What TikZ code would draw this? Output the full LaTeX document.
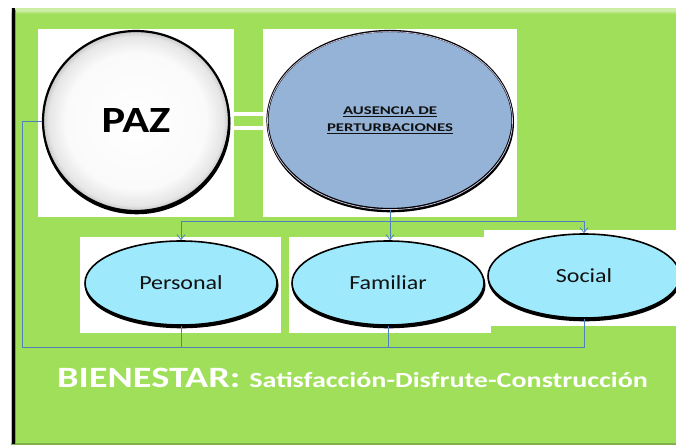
\documentclass[tikz,border=0pt]{standalone}
\usepackage{fontspec}
\setmainfont{Carlito}
\newfontfamily\sfa[FakeStretch=1.2]{Carlito}
\newfontfamily\sfb[FakeStretch=1.3]{Carlito}
\usepackage{graphicx}
\usetikzlibrary{shapes.geometric,arrows.meta}
\definecolor{bggreen}{HTML}{A0DF5A}
\definecolor{ausblue}{HTML}{95B3D7}
\definecolor{cyanfill}{HTML}{9EEAFC}
\definecolor{connblue}{HTML}{4F81BD}
\definecolor{textdark}{HTML}{111111}
\definecolor{lav}{HTML}{D8CFEA}
\pgfdeclareradialshading{pazball}{\pgfpoint{0bp}{0bp}}{color(0bp)=(white); color(19bp)=(white!98!black); color(23.5bp)=(white!90!black); color(25bp)=(white!78!black); color(50bp)=(white!78!black)}
\begin{document}
\begin{tikzpicture}[x=1pt,y=-1pt,
  conn/.style={draw=connblue, line width=0.9pt},
  tip/.style={-{Straight Barb[length=5pt,width=8pt,line width=0.8pt]}},
  blackshadow/.style={preaction={draw=black, fill=black, line width=1.8pt, transform canvas={shift={(0.6pt,-2.4pt)}}}},
  bigoval/.style={ellipse, inner sep=0, line width=2.2pt, draw=black, blackshadow},
  small/.style={ellipse, inner sep=0, minimum width=192pt, minimum height=84pt,
    draw=black, line width=1.6pt, fill=cyanfill, text=textdark,
    font=\sfa\fontsize{20}{24}\selectfont, blackshadow},
  panel/.style={fill=white}
]
\useasboundingbox (0,0) rectangle (676,446);
\fill[white] (0,0) rectangle (676,446);
% green board
\fill[bggreen] (11,8) rectangle (676,444);
\fill[bggreen!55!white] (11,8) rectangle (676,10.5);
\shade[top color=bggreen!55!white, bottom color=bggreen] (11,10.5) rectangle (676,14);
\fill[bggreen!80!black] (11,443) rectangle (676,444.5);
\fill[black] (11.5,8) rectangle (14.5,444);
\fill[black!45] (14.5,10) rectangle (15.5,444);
% white panels
\fill[panel] (38,29) rectangle (234,217);
\fill[panel] (263,29) rectangle (517,217);
\fill[panel] (484,230) rectangle (676,326);
\fill[panel] (80,237) rectangle (281,333);
\fill[panel] (289,237) rectangle (491,333);
% nodes
\node[bigoval, shade, shading=pazball, minimum width=186pt, minimum height=180pt,
  font=\sfa\bfseries\fontsize{37}{37}\selectfont] (paz) at (136,121) {PAZ};
\node[bigoval, fill=ausblue, minimum width=245pt, minimum height=178pt, align=center,
  text=textdark, font=\bfseries\fontsize{11.8}{17}\selectfont,
  postaction={draw=lav, line width=0.7pt, transform canvas={shift={(0pt,-0.6pt)}}}] (aus) at (390,120)
  {\scalebox{1.42}[1]{\underline{AUSENCIA DE}}\\\scalebox{1.42}[1]{\underline{PERTURBACIONES}}};
% equals sign
\fill[white] (233,112) rectangle (265,116.5);
\fill[white] (233,126) rectangle (265,130.5);
\node[small] (per) at (181,283) {Personal};
\node[small] (fam) at (388,283) {Familiar};
\node[small] (soc) at (584,276) {Social};
% connectors
\coordinate (bar) at (0,221);
\coordinate (low) at (22,347);
\draw[conn] (per.north |- bar) -- (soc.north |- bar);
\draw[conn] (aus.south) -- (aus.south |- bar);
\draw[conn,tip] (per.north |- bar) -- (per.north);
\draw[conn,tip] (aus.south |- bar) -- (aus.south |- fam.north);
\draw[conn,tip] (soc.north |- bar) -- (soc.north);
\draw[conn] (soc.south) -- (soc.south |- low) -- (low) -- (low |- paz.west) -- (paz.west);
\draw[conn] (per.south) -- (per.south |- low);
\draw[conn] (fam.south) -- (fam.south |- low);
% bottom text
\node[anchor=base west, text=white, inner sep=0] (bien) at (57,387)
  {{\sfb\bfseries\fontsize{29.5}{29.5}\selectfont BIENESTAR:}\hspace{9pt}{\sfb\bfseries\fontsize{21.6}{21.6}\selectfont Satisfacción-Disfrute-Construcción}};
\end{tikzpicture}
\end{document}
